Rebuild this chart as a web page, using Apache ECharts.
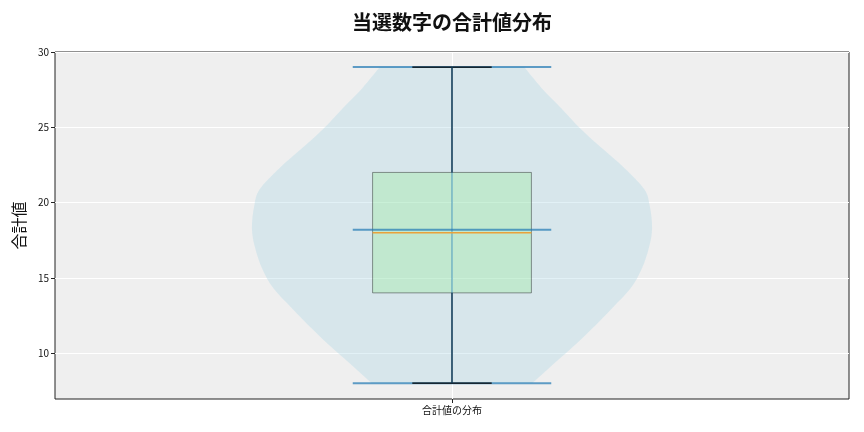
<!DOCTYPE html>
<html lang="ja">
<head>
<meta charset="UTF-8">
<title>当選数字の合計値分布</title>
<script src="https://cdn.jsdelivr.net/npm/echarts@6/dist/echarts.min.js"></script>
<style>html,body{margin:0;padding:0;background:#fff;}</style>
</head>
<body>
<div id="main" style="width:864px;height:432px;"></div>
<script>
var categoryName = '合計値の分布';
var yTicks = [10, 15, 20, 25, 30];
// 合計値: 最小, Q1, 中央値, Q3, 最大
var boxStats = [8, 14, 18, 22, 29];
var meanValue = 18.2;
// バイオリンの輪郭 (値 / 片側の幅)
var violinY = [8, 9, 10.3, 11.6, 13, 14.3, 15.6, 17, 18.3, 19.8, 20.9, 22.3, 23.6, 24.9, 26.3, 27.6, 29];
var violinHalf = [0.101, 0.122, 0.150, 0.176, 0.202, 0.225, 0.239, 0.248, 0.252, 0.249, 0.242, 0.217, 0.189, 0.162, 0.137, 0.113, 0.091];

var font = "'Noto Sans CJK JP', 'Noto Sans', sans-serif";
var myChart = echarts.init(document.getElementById('main'));

function line(api, x1, y1, x2, y2, style) {
    var a = api.coord([x1, y1]);
    var b = api.coord([x2, y2]);
    return {type: 'line', shape: {x1: a[0], y1: a[1], x2: b[0], y2: b[1]}, style: style};
}

// 輪郭の点列を滑らかな曲線にする
function smoothPath(p) {
    var d = '';
    for (var i = 0; i < p.length - 1; i++) {
        var p0 = p[Math.max(i - 1, 0)], p1 = p[i], p2 = p[i + 1], p3 = p[Math.min(i + 2, p.length - 1)];
        var c1 = [p1[0] + (p2[0] - p0[0]) / 6, p1[1] + (p2[1] - p0[1]) / 6];
        var c2 = [p2[0] - (p3[0] - p1[0]) / 6, p2[1] - (p3[1] - p1[1]) / 6];
        d += ' C' + c1[0] + ',' + c1[1] + ' ' + c2[0] + ',' + c2[1] + ' ' + p2[0] + ',' + p2[1];
    }
    return d;
}

function renderViolin(params, api) {
    var c = 1;
    var left = [], right = [];
    for (var i = 0; i < violinY.length; i++) {
        left.push(api.coord([c - violinHalf[i], violinY[i]]));
        right.push(api.coord([c + violinHalf[i], violinY[i]]));
    }
    right.reverse();
    var body = 'M' + left[0][0] + ',' + left[0][1] + smoothPath(left) +
        ' L' + right[0][0] + ',' + right[0][1] + smoothPath(right) + ' Z';

    var lo = boxStats[0], q1 = boxStats[1], med = boxStats[2], q3 = boxStats[3], hi = boxStats[4];
    var tl = api.coord([c - 0.1, q3]);
    var br = api.coord([c + 0.1, q1]);
    var vStyle = {stroke: 'rgba(31,119,180,0.7)', lineWidth: 2};
    var kStyle = {stroke: '#000', lineWidth: 1.3};
    return {
        type: 'group',
        children: [
            {type: 'path', shape: {pathData: body}, style: {fill: 'rgba(173,216,230,0.35)'}},
            {type: 'rect', shape: {x: tl[0], y: tl[1], width: br[0] - tl[0], height: br[1] - tl[1]},
             style: {fill: 'rgba(144,238,144,0.3)', stroke: 'rgba(0,0,0,0.4)', lineWidth: 1}},
            line(api, c - 0.125, hi, c + 0.125, hi, vStyle),
            line(api, c - 0.125, lo, c + 0.125, lo, vStyle),
            line(api, c - 0.125, meanValue, c + 0.125, meanValue, vStyle),
            line(api, c, lo, c, q1, kStyle),
            line(api, c, q3, c, hi, kStyle),
            line(api, c - 0.05, hi, c + 0.05, hi, kStyle),
            line(api, c - 0.05, lo, c + 0.05, lo, kStyle),
            line(api, c, lo, c, hi, {stroke: 'rgba(31,119,180,0.5)', lineWidth: 1.5}),
            line(api, c - 0.1, med, c + 0.1, med, {stroke: '#e9a23b', lineWidth: 1.5})
        ]
    };
}

var option = {
    backgroundColor: '#fff',
    animation: false,
    graphic: [{
        type: 'text', left: 452 - 100, top: 12,
        style: {text: '当選数字の合計値分布', x: 100, textAlign: 'center', font: 'bold 20px ' + font, fill: '#111'}
    }],
    grid: {
        left: 55, right: 15, top: 52, bottom: 33,
        show: true, backgroundColor: '#efefef', borderColor: '#222', borderWidth: 1
    },
    xAxis: {
        type: 'value', min: 0.5, max: 1.5, interval: 0.5,
        axisLine: {show: false},
        axisTick: {show: true, length: 4, lineStyle: {color: '#222'}, customValues: [1]},
        axisLabel: {customValues: [1], formatter: function () { return categoryName; },
                    fontFamily: font, fontSize: 10, color: '#111', margin: 6},
        splitLine: {show: true, lineStyle: {color: '#fff', width: 1}}
    },
    yAxis: {
        type: 'value', min: 6.95, max: 30,
        name: '合計値', nameLocation: 'middle', nameGap: 28,
        nameTextStyle: {fontFamily: font, fontSize: 16, color: '#111'},
        axisLine: {show: false},
        axisTick: {show: true, length: 4, lineStyle: {color: '#222'}, customValues: yTicks},
        axisLabel: {customValues: yTicks, fontFamily: font, fontSize: 10, color: '#111', margin: 6},
        splitLine: {show: true, lineStyle: {color: '#fff', width: 1}}
    },
    series: [{
        type: 'custom',
        renderItem: renderViolin,
        data: [[1, meanValue]],
        silent: true
    }]
};
myChart.setOption(option);
</script>
</body>
</html>
